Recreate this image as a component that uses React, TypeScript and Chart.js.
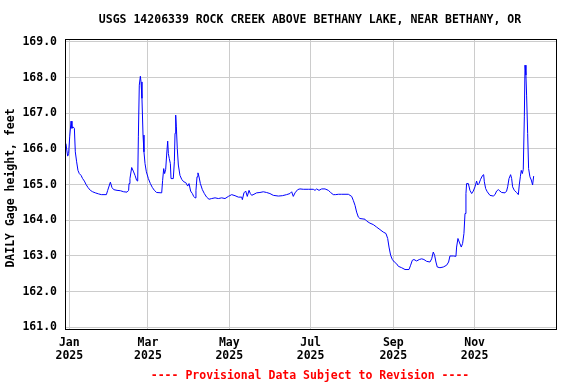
import React, { useEffect, useRef } from "react";
import { Chart, registerables } from "chart.js";

Chart.register(...registerables);

const TITLE = "USGS 14206339 ROCK CREEK ABOVE BETHANY LAKE, NEAR BETHANY, OR";
const Y_TITLE = "DAILY Gage height, feet";
const FOOTER = "---- Provisional Data Subject to Revision ----";

// day-of-year 2025 (0 = Jan 1) for x tick positions
const tickDays = [0, 59, 120, 181, 243, 304];
const tickMonths = ["Jan", "Mar", "May", "Jul", "Sep", "Nov"];
const tickYear = "2025";
const yTicks = [161, 162, 163, 164, 165, 166, 167, 168, 169];

// observation time (days since Jan 1 2025) and gage height (feet)
const days = [
  -2.5, -1.9, -1.2, -0.5, 0.3, 1.3, 2.0, 2.8, 3.8, 4.5, 5.5, 6.5, 7.5, 8.8, 10.0, 11.3, 12.5, 14.0, 15.8, 17.5,
  19.5, 22.0, 24.0, 27.8, 28.8, 30.8, 32.0, 33.3, 35.8, 38.3, 40.8, 43.3, 44.5, 44.8, 45.5, 46.8, 48.0, 49.3, 50.5, 51.3,
  51.8, 52.5, 53.3, 53.8, 54.5, 55.3, 56.0, 56.8, 57.8, 59.3, 60.8, 62.3, 63.8, 65.5, 69.3, 70.0, 70.8, 71.5, 72.3, 73.0,
  73.8, 74.3, 75.0, 75.8, 76.3, 78.0, 78.8, 79.3, 79.8, 80.3, 81.0, 81.8, 83.0, 84.3, 85.8, 87.3, 88.8, 89.8, 91.0, 92.3,
  93.3, 94.3, 95.0, 95.8, 96.5, 97.3, 98.3, 99.8, 101.3, 103.0, 104.8, 106.8, 109.3, 111.8, 114.3, 116.8, 119.3, 121.8, 124.3, 126.8,
  129.3, 129.8, 131.0, 132.3, 133.5, 134.8, 135.8, 136.8, 138.5, 140.5, 143.0, 145.5, 148.0, 150.5, 153.0, 156.8, 159.8, 163.0, 165.5, 166.8,
  168.0, 169.3, 171.3, 173.0, 175.5, 179.3, 183.0, 184.3, 185.5, 187.3, 189.3, 191.8, 194.3, 196.0, 198.0, 199.8, 201.8, 204.3, 209.3, 211.8,
  213.0, 214.3, 215.5, 216.8, 218.0, 221.8, 223.0, 225.5, 228.0, 230.5, 233.0, 235.5, 237.5, 238.8, 239.8, 241.0, 242.3, 243.8, 245.5, 246.8,
  249.3, 251.8, 254.8, 256.0, 257.3, 258.5, 260.5, 262.5, 264.3, 266.0, 268.0, 270.5, 271.8, 273.0, 274.0, 275.0, 276.0, 278.0, 280.5, 283.0,
  284.5, 285.5, 288.0, 290.0, 290.5, 291.5, 292.5, 294.0, 295.0, 296.0, 296.8, 297.5, 298.0, 299.3, 300.5, 301.8, 303.0, 304.3, 305.5, 306.3,
  307.3, 308.5, 310.0, 310.8, 311.3, 312.3, 313.5, 315.5, 318.0, 319.3, 320.5, 321.8, 323.0, 324.3, 326.8, 328.0, 328.8, 329.8, 331.0, 331.8,
  332.5, 333.8, 335.5, 336.8, 337.5, 338.3, 339.0, 339.8, 340.5, 341.3, 341.8, 342.5, 343.0, 343.8, 344.5, 345.5, 346.5, 347.5, 348.3,
];
const heights = [
  166.15, 165.97, 165.80, 165.87, 166.34, 166.78, 166.58, 166.62, 166.58, 165.92, 165.64, 165.40, 165.31, 165.26, 165.17, 165.10, 165.01, 164.92, 164.84, 164.80,
  164.77, 164.74, 164.72, 164.72, 164.84, 165.07, 164.92, 164.86, 164.84, 164.83, 164.80, 164.79, 164.84, 165.03, 165.17, 165.48, 165.38, 165.26, 165.12, 165.10,
  166.34, 167.79, 168.04, 167.88, 167.42, 166.39, 165.92, 165.59, 165.36, 165.17, 165.03, 164.92, 164.84, 164.78, 164.77, 165.12, 165.45, 165.31, 165.43, 165.83,
  166.22, 165.87, 165.73, 165.59, 165.17, 165.17, 165.64, 166.44, 166.95, 166.62, 166.01, 165.55, 165.26, 165.15, 165.08, 165.06, 164.96, 165.03, 164.82, 164.75,
  164.67, 164.63, 164.84, 165.22, 165.33, 165.22, 165.03, 164.86, 164.75, 164.65, 164.59, 164.61, 164.63, 164.61, 164.63, 164.61, 164.67, 164.72, 164.69, 164.65,
  164.65, 164.58, 164.77, 164.82, 164.67, 164.84, 164.75, 164.70, 164.73, 164.77, 164.78, 164.80, 164.78, 164.75, 164.70, 164.68, 164.69, 164.72, 164.75, 164.80,
  164.67, 164.77, 164.86, 164.88, 164.87, 164.87, 164.87, 164.84, 164.88, 164.84, 164.88, 164.88, 164.84, 164.78, 164.72, 164.72, 164.73, 164.73, 164.73, 164.67,
  164.56, 164.42, 164.23, 164.09, 164.05, 164.03, 163.98, 163.92, 163.88, 163.81, 163.74, 163.67, 163.63, 163.49, 163.25, 163.02, 162.90, 162.83, 162.78, 162.71,
  162.67, 162.62, 162.62, 162.74, 162.88, 162.90, 162.86, 162.90, 162.92, 162.90, 162.85, 162.83, 162.92, 163.11, 163.02, 162.83, 162.69, 162.67, 162.69, 162.74,
  162.83, 163.00, 163.00, 162.99, 163.25, 163.49, 163.39, 163.25, 163.35, 163.63, 164.19, 164.75, 165.03, 165.03, 164.84, 164.75, 164.82, 164.94, 165.10, 164.99,
  165.03, 165.15, 165.26, 165.28, 165.08, 164.89, 164.80, 164.70, 164.68, 164.72, 164.82, 164.86, 164.82, 164.78, 164.77, 164.82, 164.94, 165.17, 165.28, 165.17,
  164.94, 164.84, 164.78, 164.72, 164.99, 165.22, 165.40, 165.31, 165.43, 166.90, 168.35, 168.07, 167.51, 166.43, 165.45, 165.22, 165.13, 164.99, 165.24,
];

const FONT = '"DejaVu Sans Mono", monospace';

const decor = {
  id: "decor",
  afterDraw(chart: any) {
    const { ctx, chartArea: a } = chart;
    ctx.save();
    ctx.strokeStyle = "#000000";
    ctx.lineWidth = 1;
    ctx.strokeRect(a.left - 0.5, a.top + 0.5, a.right - a.left, a.bottom - a.top);
    ctx.fillStyle = "#000000";
    ctx.font = `bold 11.5px ${FONT}`;
    ctx.textAlign = "center";
    ctx.textBaseline = "middle";
    ctx.fillText(TITLE, 310, 20);
    ctx.save();
    ctx.translate(11.5, 188);
    ctx.rotate(-Math.PI / 2);
    ctx.fillText(Y_TITLE, 0, 0);
    ctx.restore();
    ctx.fillStyle = "#ff0000";
    ctx.fillText(FOOTER, 310, 376);
    ctx.restore();
  },
};

export default function App() {
  const ref = useRef<HTMLCanvasElement | null>(null);
  useEffect(() => {
    if (!ref.current) return;
    const points = days.map((d, i) => ({ x: d, y: heights[i] }));
    const chart = new Chart(ref.current, {
      type: "line",
      data: {
        datasets: [
          {
            data: points,
            borderColor: "#0000ff",
            borderWidth: 1,
            pointRadius: 0,
            tension: 0,
            fill: false,
          },
        ],
      },
      options: {
        animation: false,
        responsive: false,
        maintainAspectRatio: false,
        layout: { padding: { top: 39, right: 19, left: 0, bottom: 0 } },
        plugins: {
          legend: { display: false },
          title: { display: false },
          tooltip: { enabled: false },
        },
        scales: {
          x: {
            type: "linear",
            min: -2.475,
            max: 365.8,
            grid: { color: "#cccccc", lineWidth: 1, drawTicks: false },
            border: { display: false },
            afterFit: (s: any) => {
              s.height = 55;
            },
            afterBuildTicks: (s: any) => {
              s.ticks = tickDays.map((v) => ({ value: v }));
            },
            ticks: {
              autoSkip: false,
              maxRotation: 0,
              minRotation: 0,
              padding: 7.5,
              color: "#000000",
              font: { family: FONT, size: 11.5, weight: "bold", lineHeight: "13px" },
              callback: (v: any) => {
                const i = tickDays.indexOf(Number(v));
                return i >= 0 ? [tickMonths[i], tickYear] : "";
              },
            },
          },
          y: {
            type: "linear",
            min: 160.952,
            max: 169.084,
            grid: { color: "#cccccc", lineWidth: 1, drawTicks: false },
            border: { display: false },
            afterFit: (s: any) => {
              s.width = 66;
            },
            afterBuildTicks: (s: any) => {
              s.ticks = yTicks.map((v) => ({ value: v }));
            },
            ticks: {
              padding: 9,
              color: "#000000",
              font: { family: FONT, size: 11.5, weight: "bold" },
              callback: (v: any) => Number(v).toFixed(1),
            },
          },
        },
      },
      plugins: [decor],
    });
    return () => chart.destroy();
  }, []);
  return (
    <div style={{ position: "absolute", left: 0, top: 0, width: 576, height: 384, background: "#ffffff" }}>
      <canvas ref={ref} width={576} height={384} style={{ display: "block" }} />
    </div>
  );
}
